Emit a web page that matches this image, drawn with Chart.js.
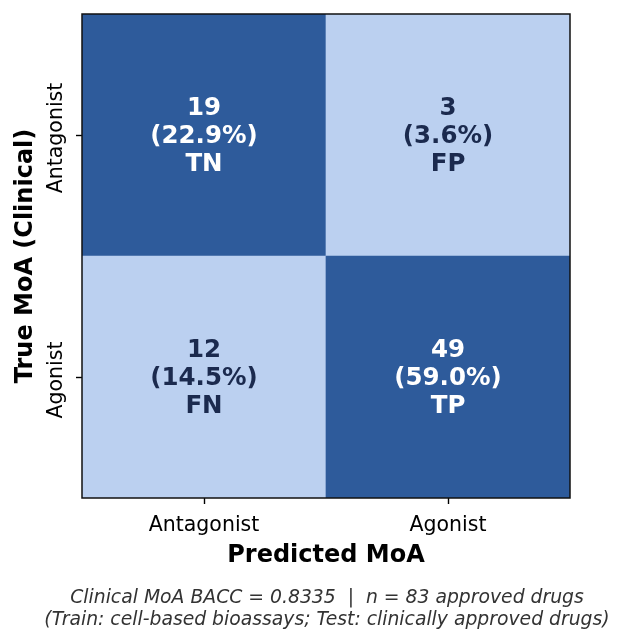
<!DOCTYPE html>
<html>
<head>
<meta charset="utf-8">
<script src="https://cdn.jsdelivr.net/npm/chart.js@4/dist/chart.umd.min.js"></script>
<style>
  html, body { margin: 0; padding: 0; background: #fff; }
  #wrap { width: 623px; height: 643px; }
</style>
</head>
<body>
<div id="wrap"><canvas id="cm"></canvas></div>
<script>
// confusion matrix, rows = true class, cols = predicted class
var predLabels = ['Antagonist', 'Agonist'];
var trueLabels = ['Antagonist', 'Agonist'];
var rowAntagonist = [19, 3];
var rowAgonist = [12, 49];
var tagsAntagonist = ['TN', 'FP'];
var tagsAgonist = ['FN', 'TP'];
var nDrugs = 83;
var bacc = '0.8335';

var DARK = '#2e5b9b';
var LIGHT = '#bbd0f0';

var total = rowAntagonist.concat(rowAgonist).reduce(function (a, b) { return a + b; }, 0);

// correct predictions (diagonal) dark, wrong ones light
var cellColors = function (rowIdx) {
    return predLabels.map(function (p, j) { return j === rowIdx ? DARK : LIGHT; });
};

var rows = [
    { name: trueLabels[1], counts: rowAgonist, tags: tagsAgonist, idx: 1 },
    { name: trueLabels[0], counts: rowAntagonist, tags: tagsAntagonist, idx: 0 }
];

var cellText = {
    id: 'cellText',
    afterDatasetsDraw: function (chart) {
        var ctx = chart.ctx;
        ctx.save();
        ctx.font = 'bold 24.5px "DejaVu Sans"';
        ctx.textAlign = 'center';
        ctx.textBaseline = 'middle';
        chart.data.datasets.forEach(function (ds, di) {
            var meta = chart.getDatasetMeta(di);
            meta.data.forEach(function (el, j) {
                var n = ds.counts[j];
                var cy = (el.y + el.base) / 2 + 2;
                var lines = [String(n), '(' + (100 * n / total).toFixed(1) + '%)', ds.tags[j]];
                ctx.fillStyle = ds.backgroundColor[j] === DARK ? '#ffffff' : '#1b2a4e';
                lines.forEach(function (t, k) {
                    ctx.fillText(t, el.x, cy + (k - 1) * 28);
                });
            });
        });
        // frame
        var a = chart.chartArea;
        ctx.strokeStyle = '#111';
        ctx.lineWidth = 1.5;
        ctx.strokeRect(a.left, a.top, a.right - a.left, a.bottom - a.top);
        ctx.restore();
    }
};

Chart.defaults.font.family = '"DejaVu Sans"';
Chart.defaults.color = '#000';

new Chart(document.getElementById('cm'), {
    type: 'bar',
    data: {
        labels: predLabels,
        datasets: rows.map(function (r) {
            return {
                label: r.name,
                data: r.counts.map(function () { return 1; }),
                counts: r.counts,
                tags: r.tags,
                backgroundColor: cellColors(r.idx),
                borderWidth: 0,
                barPercentage: 1,
                categoryPercentage: 1
            };
        })
    },
    options: {
        responsive: true,
        maintainAspectRatio: false,
        animation: false,
        layout: { padding: { left: 31, right: 0, top: 14, bottom: 0 } },
        plugins: {
            legend: { display: false },
            tooltip: { enabled: false },
            title: {
                display: true,
                position: 'bottom',
                text: ['Clinical MoA BACC = ' + bacc + '  |  n = ' + nDrugs + ' approved drugs',
                       '(Train: cell-based bioassays; Test: clinically approved drugs)'],
                color: '#333',
                font: { size: 18.8, style: 'italic', weight: 'normal', lineHeight: '22px' },
                padding: { top: 1, bottom: 12 }
            }
        },
        scales: {
            x: {
                stacked: true,
                grid: { offset: false, drawOnChartArea: false, drawTicks: true, tickLength: 6, tickWidth: 1.4, tickColor: '#000' },
                border: { display: false },
                ticks: { font: { size: 20.5 }, color: '#000', padding: 9 },
                title: { display: true, text: 'Predicted MoA', font: { size: 24, weight: 'bold' }, color: '#000', padding: { top: 0, bottom: 15.6 } },
                afterFit: function (s) { s.height = 88; }
            },
            y: {
                stacked: true,
                min: 0,
                max: 2,
                afterBuildTicks: function (s) { s.ticks = [{ value: 0.5 }, { value: 1.5 }]; },
                grid: { drawOnChartArea: false, drawTicks: true, tickLength: 6, tickWidth: 1.4, tickColor: '#000' },
                border: { display: false },
                ticks: {
                    font: { size: 20.5 },
                    color: '#000',
                    minRotation: 90,
                    maxRotation: 90,
                    crossAlign: 'center',
                    padding: -36,
                    labelOffset: 3,
                    callback: function (v) { return v > 1 ? trueLabels[0] : trueLabels[1]; }
                },
                title: { display: true, text: 'True MoA (Clinical)', font: { size: 24, weight: 'bold' }, color: '#000', padding: { top: -19.4, bottom: 0 } },
                afterFit: function (s) { s.width = 51; }
            },
            // empty right-hand spacer so the footer text centres on the whole figure
            yr: {
                position: 'right',
                display: true,
                grid: { display: false },
                border: { display: false },
                ticks: { display: false },
                afterFit: function (s) { s.width = 53; }
            }
        }
    },
    plugins: [cellText]
});
</script>
</body>
</html>
